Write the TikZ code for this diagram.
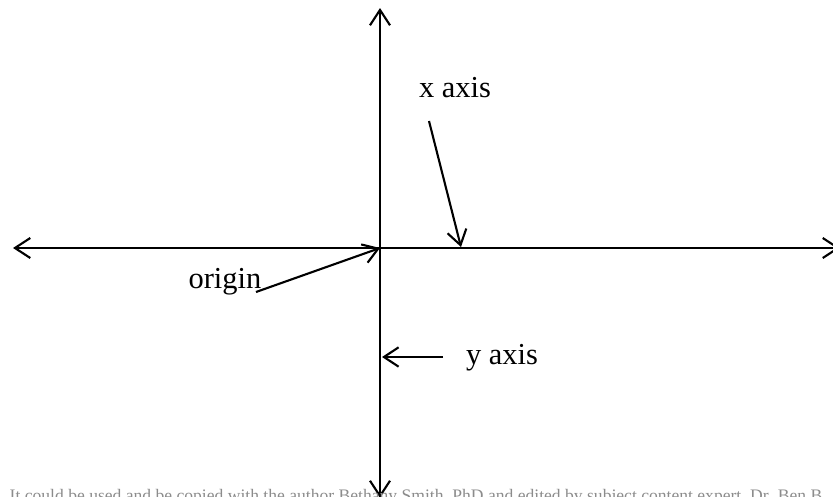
\documentclass[tikz,border=0pt]{standalone}
\usepackage{fontspec}
\setmainfont{Liberation Serif}
\usetikzlibrary{arrows.meta,positioning}

\begin{document}
\begin{tikzpicture}[
  x=0.03cm, y=-0.03cm,
  axis/.style={line width=1.8pt, {Straight Barb[length=4.6mm, width=6mm, line width=1.8pt]}-{Straight Barb[length=4.6mm, width=6mm, line width=1.8pt]}},
  pointer/.style={line width=1.8pt, -{Straight Barb[length=4.4mm, width=5.8mm, line width=1.8pt]}},
  label/.style={font=\fontsize{26}{30}\selectfont, inner sep=0pt},
  note/.style={font=\fontsize{15}{18}\selectfont, text=black!45, inner sep=0pt, anchor=base}
]
  \useasboundingbox (0,0) rectangle (833,496);

  % axes
  \coordinate (left) at (13,248);
  \coordinate (right) at (840,248);
  \coordinate (top) at (380,8);
  \coordinate (bottom) at (380,498);
  \coordinate (origin) at (380,248);
  \draw[axis] (left) -- (right);
  \draw[axis] (top) -- (bottom);

  % labels
  \node[label] (xlabel) at (455,88) {x axis};
  \node[label] (originlabel) at (225,282) {origin};
  \node[label] (ylabel) at (502,358) {y axis};

  \coordinate (xstart) at (429,121);
  \coordinate (xend) at (461,247);
  \coordinate (ostart) at (256,292);
  \coordinate (ystart) at (443,357);
  \coordinate (yend) at (382,357);

  \draw[pointer] (xstart) -- (xend);
  \draw[pointer] (ostart) -- (origin);
  \draw[pointer] (ystart) -- (yend);

  % cut-off footer
  \node[note] (footer) at (416,501) {It could be used and be copied with the author Bethany Smith, PhD and edited by subject content expert, Dr. Ben B};
\end{tikzpicture}
\end{document}
